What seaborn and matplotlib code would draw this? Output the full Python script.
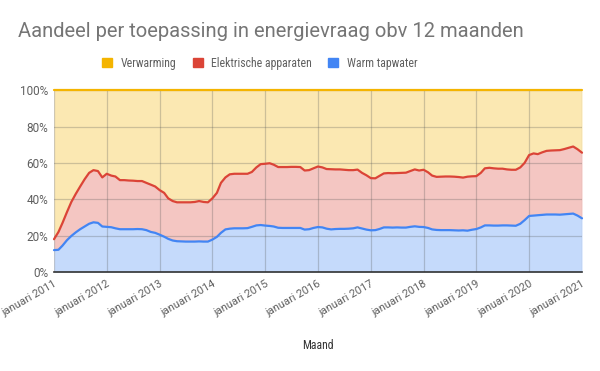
import numpy as np
import pandas as pd
import matplotlib
matplotlib.use("Agg")
import matplotlib.pyplot as plt
import matplotlib.transforms as mtransforms
import seaborn as sns

# data (percent per month, jan 2011 .. jan 2021)
maanden = pd.date_range("2011-01-01", "2021-01-01", freq="MS")

tapwater = [
    12, 12.2, 14.5, 17.5, 19.8, 21.8, 23.5, 25, 26.5, 27.3, 27, 25,
    24.8, 24.6, 24, 23.5, 23.5, 23.5, 23.5, 23.6, 23.5, 23, 22, 21.5,
    20.5, 19.4, 18.2, 17.3, 16.9, 16.8, 16.7, 16.7, 16.7, 16.8, 16.7, 16.7,
    17.8, 19.3, 21.5, 23.4, 23.8, 24, 24, 24, 24.1, 24.8, 25.6, 25.8,
    25.5, 25.3, 25, 24.3, 24.2, 24.2, 24.2, 24.2, 24.2, 23.3, 23.5, 24.2,
    24.7, 24.5, 23.8, 23.4, 23.6, 23.7, 23.7, 23.8, 24, 24.5, 23.9, 23.3,
    22.9, 23, 23.6, 24.5, 24.5, 24.4, 24.5, 24.4, 24.4, 24.8, 25.1, 24.8,
    24.7, 24.2, 23.4, 23.1, 23, 23, 23, 22.9, 22.8, 22.9, 22.7, 23.2,
    23.6, 24.5, 25.6, 25.6, 25.5, 25.5, 25.6, 25.6, 25.5, 25.4, 26.5, 28.5,
    30.8, 31, 31.2, 31.4, 31.6, 31.6, 31.6, 31.5, 31.7, 31.9, 32.1, 31,
    29.5,
]
elektrisch = [
    6, 9.8, 12.5, 15.5, 18.7, 21.2, 23.5, 26, 28, 28.7, 28.5, 27,
    29.2, 28.4, 28.5, 27, 27, 26.8, 26.7, 26.4, 26.5, 26, 26, 25.5,
    24.5, 24.1, 22.3, 21.7, 21.4, 21.5, 21.6, 21.6, 21.8, 22.2, 21.8, 21.6,
    22.7, 24.2, 27.5, 28.6, 29.9, 30, 30, 30, 29.9, 30.2, 31.9, 33.5,
    34, 34.5, 34, 33.4, 33.5, 33.5, 33.6, 33.6, 33.5, 32.5, 32.5, 32.8,
    33.3, 33, 32.8, 33.1, 32.8, 32.7, 32.5, 32.2, 32, 31.8, 30.6, 29.9,
    28.7, 28.5, 29.2, 29.7, 29.9, 29.9, 29.9, 30.1, 30.2, 30.7, 31.3, 31,
    31.5, 30.6, 29.6, 29.2, 29.4, 29.5, 29.5, 29.5, 29.4, 29, 29.7, 29.4,
    29.1, 30, 31.4, 31.7, 31.5, 31.3, 31.2, 30.8, 30.7, 30.8, 31, 31.5,
    33.5, 34.2, 33.6, 34.4, 35, 35.2, 35.3, 35.5, 35.9, 36.4, 36.9, 36.5,
    36.1,
]
verwarming = [
    82, 78, 73, 67, 61.5, 57, 53, 49, 45.5, 44, 44.5, 48,
    46, 47, 47.5, 49.5, 49.5, 49.7, 49.8, 50, 50, 51, 52, 53,
    55, 56.5, 59.5, 61, 61.7, 61.7, 61.7, 61.7, 61.5, 61, 61.5, 61.7,
    59.5, 56.5, 51, 48, 46.3, 46, 46, 46, 46, 45, 42.5, 40.7,
    40.5, 40.2, 41, 42.3, 42.3, 42.3, 42.2, 42.2, 42.3, 44.2, 44, 43,
    42, 42.5, 43.4, 43.5, 43.6, 43.6, 43.8, 44, 44, 43.7, 45.5, 46.8,
    48.4, 48.5, 47.2, 45.8, 45.6, 45.7, 45.6, 45.5, 45.4, 44.5, 43.6, 44.2,
    43.8, 45.2, 47, 47.7, 47.6, 47.5, 47.5, 47.6, 47.8, 48.1, 47.6, 47.4,
    47.3, 45.5, 43, 42.7, 43, 43.2, 43.2, 43.6, 43.8, 43.8, 42.5, 40,
    35.7, 34.8, 35.2, 34.2, 33.4, 33.2, 33.1, 33, 32.4, 31.7, 31, 32.5,
    34.4,
]

reeksen = ["Verwarming", "Elektrische apparaten", "Warm tapwater"]
kleuren = {"Verwarming": "#f4b400", "Elektrische apparaten": "#db4437", "Warm tapwater": "#4285f4"}
jaren = [f"januari {j}" for j in range(2011, 2022)]
y_ticks = [0, 20, 40, 60, 80, 100]

sns.set_theme(style="white")
plt.rcParams["font.family"] = ["Roboto", "DejaVu Sans"]
smal = ["Roboto Condensed", "Liberation Sans Narrow", "Roboto"]

fig = plt.figure(figsize=(6, 3.71), dpi=100)
ax = fig.add_axes([0.09, 0.267, 0.88, 0.49])

# stacked shares, bottom to top
stapel = np.vstack([tapwater, elektrisch, verwarming])
ax.stackplot(maanden, stapel,
             colors=[kleuren["Warm tapwater"], kleuren["Elektrische apparaten"], kleuren["Verwarming"]],
             alpha=0.3, linewidth=0, zorder=1)

cum = np.cumsum(stapel, axis=0)
df = pd.DataFrame({
    "maand": np.tile(maanden, 3),
    "waarde": cum.ravel(),
    "reeks": np.repeat(["Warm tapwater", "Elektrische apparaten", "Verwarming"], len(maanden)),
})
sns.lineplot(data=df, x="maand", y="waarde", hue="reeks", palette=kleuren,
             linewidth=1.6, legend=False, ax=ax, zorder=4, clip_on=False)

ax.set_xlim(maanden[0], maanden[-1])
ax.set_ylim(0, 100)
ax.set_yticks(y_ticks)
ax.set_yticklabels([f"{v}%" for v in y_ticks], fontsize=8.5)
ticks = pd.date_range("2011-01-01", "2021-01-01", freq="YS")
ax.set_xticks(ticks)
ax.set_xticklabels(jaren, rotation=30, ha="right", rotation_mode="anchor", fontsize=8)
verschuif = mtransforms.ScaledTranslation(6 / 72, 0, fig.dpi_scale_trans)
for lbl in ax.get_xticklabels():
    lbl.set_transform(lbl.get_transform() + verschuif)
ax.grid(True, color="#555555", alpha=0.28, linewidth=0.9, zorder=2)
ax.set_axisbelow(False)
for s in ["top", "right", "left"]:
    ax.spines[s].set_visible(False)
ax.spines["bottom"].set_color("#333333")
ax.spines["bottom"].set_linewidth(1.2)
ax.spines["bottom"].set_zorder(5)
ax.tick_params(axis="y", length=0, colors="#5f5f5f", pad=4)
ax.tick_params(axis="x", length=0, colors="#5f5f5f", pad=5)
ax.set_xlabel("Maand", fontsize=8.5, color="#333333", labelpad=15, family=smal)
ax.set_ylabel("")

fig.text(0.03, 0.915, "Aandeel per toepassing in energievraag obv 12 maanden",
         fontsize=14.5, color="#757575", va="center", ha="left")

handles = [plt.Rectangle((0, 0), 1, 1, color=kleuren[r]) for r in reeksen]
fig.legend(handles, reeksen, loc="center", bbox_to_anchor=(0.433, 0.83), ncol=3,
           frameon=False, labelcolor="#5f5f5f", handlelength=0.85,
           handleheight=0.85, handletextpad=0.7, columnspacing=1.4,
           prop={"family": smal, "size": 8.5})

fig.savefig("out.png", dpi=100)
